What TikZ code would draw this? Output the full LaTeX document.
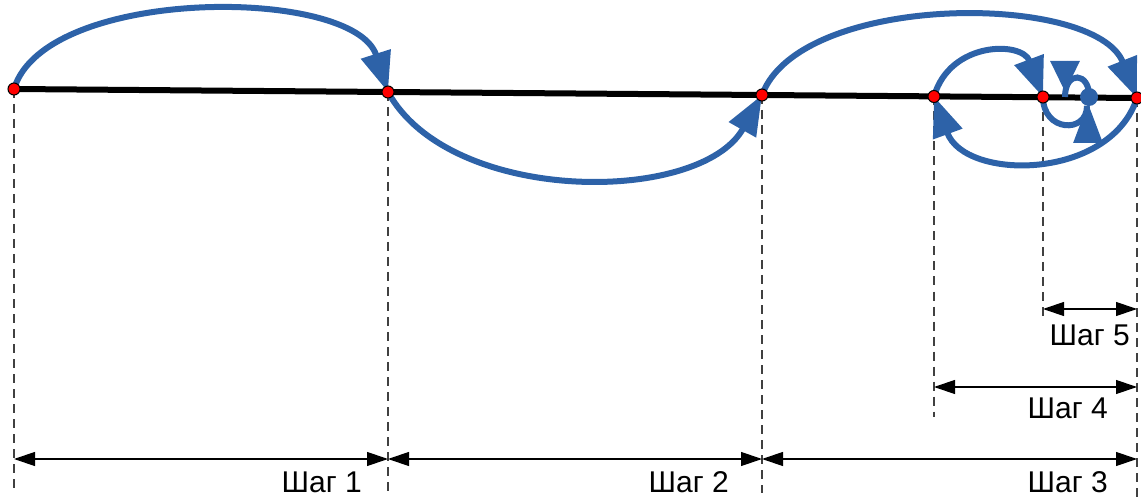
\documentclass[tikz,border=0pt]{standalone}
\usepackage{fontspec}
\setmainfont{Liberation Sans}
\usetikzlibrary{arrows.meta}
\definecolor{arcblue}{RGB}{45,98,168}
\tikzset{
 axisline/.style={line width=6pt, black},
 jump/.style={line width=6pt, draw=arcblue, -{Triangle[length=40pt,width=30pt]}},
 hookline/.style={line width=6pt, draw=arcblue},
 hookhead/.style={line width=6pt, draw=arcblue, -{Triangle[length=#1,width=28pt]}},
 ptdot/.style={circle, fill=red, draw=black, line width=1pt, minimum size=12pt, inner sep=0pt},
 bluedot/.style={circle, fill=arcblue, minimum size=18pt, inner sep=0pt},
 guide/.style={line width=1.3pt, black!75, dash pattern=on 9pt off 6pt},
 dim/.style={line width=1.2pt, {Triangle[length=21pt,width=14pt]}-{Triangle[length=21pt,width=14pt]}},
 lbl/.style={font=\fontsize{30}{30}\selectfont, anchor=base east, inner sep=0pt}
}
\begin{document}
\begin{tikzpicture}[x=1pt,y=-1pt]
\useasboundingbox (0,0) rectangle (1141,497);
% positions of the points on the line
\coordinate (a0) at (14,89);
\coordinate (a1) at (388,92);
\coordinate (a2) at (762,95);
\coordinate (a3) at (934,96.5);
\coordinate (a4) at (1043,97);
\coordinate (a5) at (1137,98);
\coordinate (dc) at (1089,97);
% levels of the dimension lines and ends of guides
\coordinate (y1) at (0,459);
\coordinate (y4) at (0,387);
\coordinate (y5) at (0,309);
\coordinate (g0) at (14,493);
\coordinate (g1) at (388,493);
\coordinate (g2) at (762,493);
\coordinate (g3) at (934,417);
\coordinate (g4) at (1043,318);
\coordinate (g5) at (1137,497);
% dashed guides
\draw[guide] (a0) -- (g0);
\draw[guide] (a1) -- (g1);
\draw[guide] (a2) -- (g2);
\draw[guide] (a3) -- (g3);
\draw[guide] (a4) -- (g4);
\draw[guide] (a5) -- (g5);
% the line
\draw[axisline] (a0) -- (a5);
% jumps
\draw[jump] (a0) .. controls (45,-14) and (354,-14) .. (a1);
\draw[jump] (a1) .. controls (450,205) and (700,205) .. (a2);
\draw[jump] (a2) .. controls (800,-8) and (1095,-8) .. (a5);
\draw[jump] (a3) .. controls (950,41) and (1022,41) .. (a4);
\draw[jump] (a5) .. controls (1110,181) and (965,181) .. (a3);
% converging spiral
\coordinate (l6) at (1087,106);
\coordinate (h6) at (1088,143);
\coordinate (t6) at (1088,103);
\draw[hookline] (a4) .. controls (1043,132) and (1087,134) .. (l6);
\draw[hookhead=40pt] (h6) -- (t6);
\node[bluedot] (dot) at (dc) {};
\coordinate (l7) at (1065,97);
\coordinate (h7) at (1065,61);
\coordinate (t7) at (1065,92);
\draw[hookline] (dot.center) .. controls (1090,72) and (1065,70) .. (l7);
\draw[hookhead=31pt] (h7) -- (t7);
% points
\node[ptdot] (p0) at (a0) {};
\node[ptdot] (p1) at (a1) {};
\node[ptdot] (p2) at (a2) {};
\node[ptdot] (p3) at (a3) {};
\node[ptdot] (p4) at (a4) {};
\node[ptdot] (p5) at (a5) {};
% dimensions
\draw[dim] (a0 |- y1) -- (a1 |- y1);
\draw[dim] (a1 |- y1) -- (a2 |- y1);
\draw[dim] (a2 |- y1) -- (a5 |- y1);
\draw[dim] (a3 |- y4) -- (a5 |- y4);
\draw[dim] (a4 |- y5) -- (a5 |- y5);
% labels
\node[lbl] (s1) at (362,492) {Шаг 1};
\node[lbl] (s2) at (729,492) {Шаг 2};
\node[lbl] (s3) at (1108,492) {Шаг 3};
\node[lbl] (s4) at (1108,418) {Шаг 4};
\node[lbl] (s5) at (1130,345) {Шаг 5};
\end{tikzpicture}
\end{document}
